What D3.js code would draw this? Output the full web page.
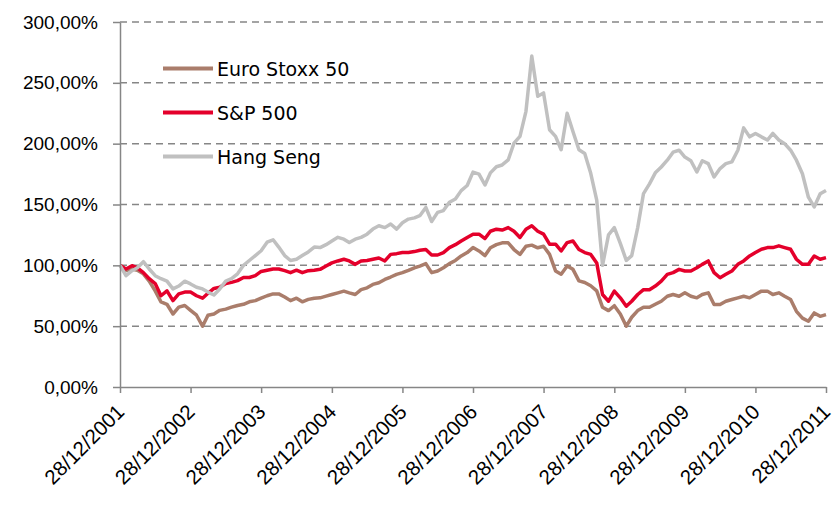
<!DOCTYPE html>
<html lang="en">
<head>
  <meta charset="UTF-8">
  <title>Euro Stoxx 50, S&amp;P 500, Hang Seng</title>
  <script src="https://d3js.org/d3.v7.min.js"></script>
  <style>
    body {
      margin: 0;
      background: #fff;
    }
    svg {
      display: block;
      font-family: "DejaVu Sans", sans-serif;
    }
    .axis path, .axis line {
      stroke: #868686;
      stroke-width: 1.5px;
    }
    .axis text {
      font-size: 19px;
      fill: #000;
    }
    .x.axis text {
      font-size: 20.5px;
    }
    .grid line {
      stroke: #868686;
      stroke-width: 1.5px;
      stroke-dasharray: 7,5;
    }
    .series {
      fill: none;
      stroke-width: 3.5px;
      stroke-linejoin: round;
    }
    .legend text {
      font-size: 19px;
    }
  </style>
</head>
<body>
<svg width="835" height="509"></svg>
<script>
  // monthly readings, 28/12/2001 = 100%
  const dates = [
    "2001-12-28",
    "2002-01-28","2002-02-28","2002-03-28","2002-04-28","2002-05-28","2002-06-28","2002-07-28","2002-08-28","2002-09-28","2002-10-28","2002-11-28","2002-12-28",
    "2003-01-28","2003-02-28","2003-03-28","2003-04-28","2003-05-28","2003-06-28","2003-07-28","2003-08-28","2003-09-28","2003-10-28","2003-11-28","2003-12-28",
    "2004-01-28","2004-02-28","2004-03-28","2004-04-28","2004-05-28","2004-06-28","2004-07-28","2004-08-28","2004-09-28","2004-10-28","2004-11-28","2004-12-28",
    "2005-01-28","2005-02-28","2005-03-28","2005-04-28","2005-05-28","2005-06-28","2005-07-28","2005-08-28","2005-09-28","2005-10-28","2005-11-28","2005-12-28",
    "2006-01-28","2006-02-28","2006-03-28","2006-04-28","2006-05-28","2006-06-28","2006-07-28","2006-08-28","2006-09-28","2006-10-28","2006-11-28","2006-12-28",
    "2007-01-28","2007-02-28","2007-03-28","2007-04-28","2007-05-28","2007-06-28","2007-07-28","2007-08-28","2007-09-28","2007-10-28","2007-11-28","2007-12-28",
    "2008-01-28","2008-02-28","2008-03-28","2008-04-28","2008-05-28","2008-06-28","2008-07-28","2008-08-28","2008-09-28","2008-10-28","2008-11-28","2008-12-28",
    "2009-01-28","2009-02-28","2009-03-28","2009-04-28","2009-05-28","2009-06-28","2009-07-28","2009-08-28","2009-09-28","2009-10-28","2009-11-28","2009-12-28",
    "2010-01-28","2010-02-28","2010-03-28","2010-04-28","2010-05-28","2010-06-28","2010-07-28","2010-08-28","2010-09-28","2010-10-28","2010-11-28","2010-12-28",
    "2011-01-28","2011-02-28","2011-03-28","2011-04-28","2011-05-28","2011-06-28","2011-07-28","2011-08-28","2011-09-28","2011-10-28","2011-11-28","2011-12-28"
  ];

  const euroStoxx = [
    100,
    95.6, 97, 96, 93, 87, 79, 70, 68, 60, 65.6, 67, 63,
    59, 50, 59, 60, 63, 64, 65.6, 67, 68, 70, 71, 73,
    75, 76.5, 76.5, 74, 71, 73, 70, 72, 73, 73.3, 74.7, 76,
    77.4, 78.8, 77.4, 76, 80, 81.5, 84.3, 85.7, 88.4, 90.4, 92.6, 94,
    95.9, 98, 99.4, 101.4, 94, 95.3, 98, 101.4, 104, 107.7, 110.5, 114.6,
    111.8, 108, 114.4, 117, 118.5, 118.5, 113, 109, 115.7, 116.6, 114.4, 115.7,
    109, 95.4, 92.7, 99.5, 96.7, 87.2, 85.9, 83.2, 79, 65.5, 62.8, 66.8,
    60, 50, 57.3, 62.8, 65.5, 65.5, 68, 70.5, 74.6, 76, 74.6, 77.4,
    74.6, 73.3, 76, 77.4, 67.8, 67.8, 70.5, 71.9, 73.3, 74.6, 73.3, 76,
    78.8, 78.8, 76, 77.4, 74.6, 71.9, 62.2, 56.6, 54, 60.9, 58.1, 59.5
  ];

  const sp500 = [
    100,
    97, 99.7, 98, 94, 89, 85, 75, 79, 71, 76.5, 78, 78,
    75, 73, 77, 81, 82, 85, 86, 87.4, 90, 90, 91.5, 95,
    96, 97, 97, 95.6, 94, 96, 94, 95.6, 96, 96.7, 99.4, 102,
    103.6, 105, 103.6, 100.8, 103.6, 104, 105, 106, 103.6, 109, 109.6, 110.5,
    110.5, 111.3, 112.4, 113, 108.5, 108.5, 110.5, 114.6, 117, 120, 122.9, 125.6,
    125.6, 122, 128, 129.7, 129, 131, 128, 122.9, 129.7, 132.5, 128, 125.6,
    117.4, 117.4, 111.8, 118.7, 120, 113, 110.5, 109, 102, 76, 70.5, 78.8,
    73.3, 66.4, 70.5, 76, 80, 80, 83, 87, 92.6, 94, 96.7, 95.3,
    95.3, 98, 100.8, 103.6, 94, 89.8, 92.6, 95.3, 100.8, 103.6, 107.7, 110.5,
    113.2, 114.6, 114.6, 116, 114.6, 113.2, 105, 100.8, 100.8, 107.7, 105, 106.3
  ];

  const hangSeng = [
    100,
    91.5, 95.6, 98, 103, 97, 91.5, 89, 87, 80.6, 83, 87, 84.7,
    82, 80.6, 78, 75.6, 80.6, 87, 89, 93, 100, 104, 108, 112,
    119, 121, 115, 108, 104, 105, 108, 111, 115, 114.6, 117, 120,
    123, 121.5, 118.7, 121.5, 123, 125.6, 129.8, 132.5, 131, 134, 129.8, 135,
    138, 139, 140.8, 147.6, 136, 143.5, 145, 151.8, 154.5, 161.4, 165.6, 176.6,
    175, 166, 176, 181, 182.5, 186.6, 200.4, 206, 226.6, 272, 239, 241.7,
    211.4, 206, 195, 225, 210, 195, 192, 175.6, 153.6, 100, 125, 131,
    118, 104, 108, 131, 159, 167, 176, 180.8, 186.4, 193, 194.6, 189,
    186, 176.7, 186, 183.6, 172.6, 179.5, 183.6, 185, 194.6, 213, 205.6, 208.4,
    205.6, 203, 208.4, 203, 200, 194.6, 186.4, 175.3, 156, 148, 158.8, 161.6
  ];

  const seriesNames = ["Euro Stoxx 50", "S&P 500", "Hang Seng"];
  const seriesColors = ["#aa7d6b", "#e4002b", "#c0c0c0"];
  const xTickLabels = ["28/12/2001", "28/12/2002", "28/12/2003", "28/12/2004", "28/12/2005", "28/12/2006",
                       "28/12/2007", "28/12/2008", "28/12/2009", "28/12/2010", "28/12/2011"];
  const yTicks = [0, 50, 100, 150, 200, 250, 300];

  const svg = d3.select("svg"),
    plotLeft = 120, plotRight = 826, plotTop = 22, plotBottom = 387;

  const parseDate = d3.timeParse("%Y-%m-%d");
  const parseLabel = d3.timeParse("%d/%m/%Y");
  const xTickDates = xTickLabels.map(parseLabel);

  const x = d3.scaleTime()
    .domain([xTickDates[0], xTickDates[xTickDates.length - 1]])
    .range([plotLeft, plotRight]);

  const y = d3.scaleLinear()
    .domain([0, 300])
    .range([plotBottom, plotTop]);

  const locale = d3.formatLocale({ decimal: ",", thousands: ".", grouping: [3], currency: ["", "€"] });
  const fmt = locale.format(".2f");

  // dashed gridlines
  svg.append("g")
    .attr("class", "grid")
    .selectAll("line")
    .data(yTicks.filter(d => d > 0))
    .join("line")
    .attr("x1", plotLeft)
    .attr("x2", plotRight)
    .attr("y1", d => y(d))
    .attr("y2", d => y(d));

  // series, Hang Seng drawn last
  const series = [euroStoxx, sp500, hangSeng];
  const line = d3.line()
    .x((d, i) => x(parseDate(dates[i])))
    .y(d => y(d));

  svg.append("g")
    .selectAll("path")
    .data(series)
    .join("path")
    .attr("class", "series")
    .attr("stroke", (d, i) => seriesColors[i])
    .attr("d", line);

  // axes
  svg.append("g")
    .attr("class", "y axis")
    .attr("transform", `translate(${plotLeft},0)`)
    .call(d3.axisLeft(y)
      .tickValues(yTicks)
      .tickSize(7)
      .tickSizeOuter(0)
      .tickPadding(15)
      .tickFormat(d => fmt(d) + "%"));

  const xAxis = svg.append("g")
    .attr("class", "x axis")
    .attr("transform", `translate(0,${plotBottom})`)
    .call(d3.axisBottom(x)
      .tickValues(xTickDates)
      .tickSize(6)
      .tickSizeOuter(0)
      .tickFormat((d, i) => xTickLabels[i]));

  xAxis.selectAll("text")
    .attr("text-anchor", "end")
    .attr("y", 0)
    .attr("dy", "0.35em")
    .attr("transform", "translate(0,21) rotate(-45)");

  // legend
  const legend = svg.append("g")
    .attr("class", "legend")
    .selectAll("g")
    .data(seriesNames)
    .join("g")
    .attr("transform", (d, i) => `translate(163,${68.5 + i * 44})`);

  legend.append("line")
    .attr("x1", 0)
    .attr("x2", 50)
    .attr("stroke", (d, i) => seriesColors[i])
    .attr("stroke-width", 4);

  legend.append("text")
    .attr("x", 54)
    .attr("y", 7.5)
    .text(d => d);
</script>
</body>
</html>
